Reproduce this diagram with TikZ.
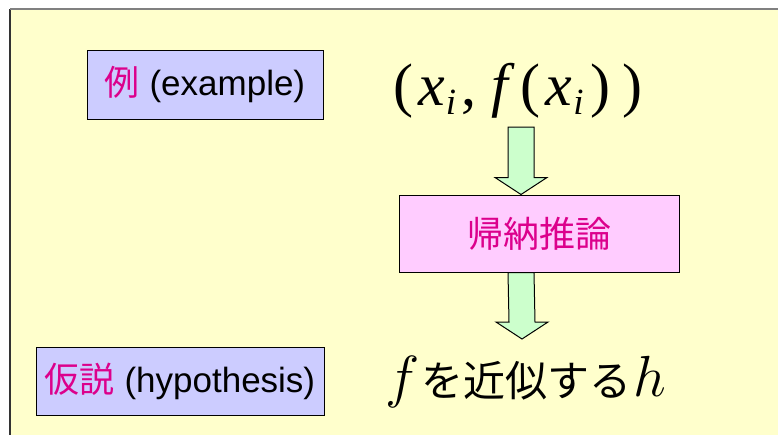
\RequirePackage{fix-cm}
\documentclass[tikz,border=0pt]{standalone}
\usepackage{fontspec}
\setsansfont{Liberation Sans}
\newfontfamily\jpfont{Noto Sans CJK JP}
\newfontfamily\eqfont{Liberation Serif}
\usetikzlibrary{positioning,calc}

\definecolor{panelyellow}{RGB}{255,255,204}
\definecolor{lavender}{RGB}{204,204,255}
\definecolor{pinkbox}{RGB}{255,204,255}
\definecolor{mintarrow}{RGB}{204,255,204}
\definecolor{kanjimag}{RGB}{220,0,140}

% lowered italic index for the Times style formula
\newcommand{\lowidx}[1]{\kern1pt\raisebox{-9pt}{\fontsize{37}{38}\selectfont\itshape #1}}
% math italic letter, as in the lower formula
\newcommand{\mvar}[1]{{\fontsize{58}{60}\selectfont$#1$}}
% thick block arrow from a start point down to a tip point
\newcommand{\fatarrow}[2]{%
  \draw[fatarrow] ($(#1)+(-13,0)$) -- ($(#2)+(-13,-17)$) -- ($(#2)+(-26,-17)$)
    -- (#2) -- ($(#2)+(26,-17)$) -- ($(#2)+(13,-17)$) -- ($(#1)+(13,0)$) -- cycle;}

\begin{document}
\begin{tikzpicture}[
    x=1pt, y=-1pt,
    label/.style={rectangle, draw, line width=1pt, fill=lavender, inner sep=0pt, text centered, font=\sffamily\fontsize{35}{40}\selectfont},
    step box/.style={rectangle, draw, line width=1pt, fill=pinkbox, inner sep=0pt, text centered, text=kanjimag, font=\fontsize{36}{40}\selectfont\jpfont},
    formula/.style={inner sep=0pt, anchor=base},
    fatarrow/.style={draw, line width=1pt, fill=mintarrow, line join=miter}
]
    \useasboundingbox (0,0) rectangle (778,434);
    % slide panel
    \fill[panelyellow] (10,9) rectangle (790,445);
    \draw[black!80, line width=1.5pt] (10,445) -- (10,9);
    \draw[black!50, line width=1.5pt] (10,9) -- (790,9);

    \node[label, minimum width=236pt, minimum height=69pt] (example) at (205,84.5) {{\color{kanjimag}\jpfont 例} (example)};
    \node[label, minimum width=288pt, minimum height=68pt] (hypothesis) at (180,381) {{\color{kanjimag}\jpfont 仮説} (hypothesis)};
    \node[step box, minimum width=280pt, minimum height=77pt] (induction) at (539,233.5) {帰納推論};

    \node[formula, font=\fontsize{60}{64}\selectfont\eqfont] (pair) at (518,105)
        {(\kern5pt\textit{x}\lowidx{i}\kern5pt,\kern15pt\textit{f}\kern6pt(\kern5pt\textit{x}\lowidx{i}\kern7pt)\kern12pt)};
    \node[formula, font=\fontsize{42}{44}\selectfont\jpfont] (approx) at (526,396)
        {\mvar{f}\kern2pt を近似する\kern2pt\mvar{h}};

    \coordinate (in top) at (521,127);
    \coordinate (out tip) at (522,339);
    \fatarrow{in top}{in top |- induction.north}
    \fatarrow{in top |- induction.south}{out tip}
\end{tikzpicture}
\end{document}
